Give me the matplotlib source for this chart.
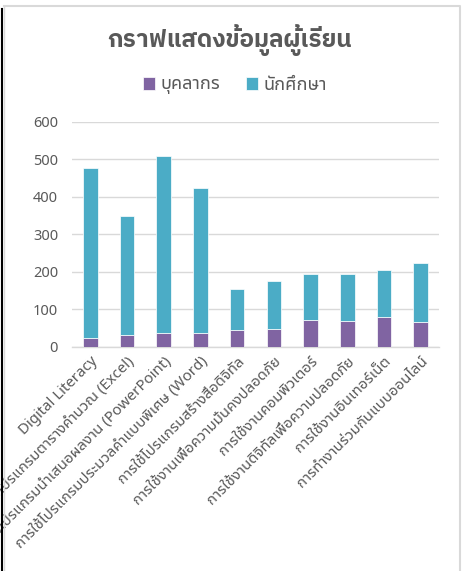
import matplotlib
matplotlib.use("Agg")
import matplotlib.pyplot as plt
from matplotlib.lines import Line2D
import numpy as np

plt.rcParams['font.family'] = ['Noto Sans Thai UI', 'Noto Sans', 'DejaVu Sans']

# data
categories = ['Digital Literacy',
              'การใช้โปรแกรมตารางคำนวณ (Excel)',
              'การใช้โปรแกรมนำเสนอผลงาน (PowerPoint)',
              'การใช้โปรแกรมประมวลคำแบบพิเศษ (Word)',
              'การใช้โปรแกรมสร้างสื่อดิจิทัล',
              'การใช้งานเพื่อความมั่นคงปลอดภัย',
              'การใช้งานคอมพิวเตอร์',
              'การใช้งานดิจิทัลเพื่อความปลอดภัย',
              'การใช้งานอินเทอร์เน็ต',
              'การทำงานร่วมกันแบบออนไลน์']
staff = [25, 31, 36, 38, 44, 47, 71, 70, 81, 66]
students = [453, 317, 472, 386, 111, 130, 124, 125, 124, 158]
series_names = ['บุคลากร', 'นักศึกษา']
colors = ['#8064A2', '#4BACC6']
yticks = [0, 100, 200, 300, 400, 500, 600]

grey = '#595959'
fig = plt.figure(figsize=(4.7, 5.71), dpi=100)
ax = fig.add_axes([72/470, 1 - 347/571, 367/470, 225.3/571])

x = np.arange(len(categories))
ax.bar(x, staff, width=0.4, color=colors[0], edgecolor='white', linewidth=0.5,
       label=series_names[0], zorder=3)
ax.bar(x, students, width=0.4, bottom=staff, color=colors[1], edgecolor='white',
       linewidth=0.5, label=series_names[1], zorder=3)

ax.set_xlim(-0.5, len(categories) - 0.5)
ax.set_ylim(0, 600)
ax.set_yticks(yticks)
ax.yaxis.grid(True, color='#D9D9D9', linewidth=1, zorder=0)
for s in ['top', 'right', 'left']:
    ax.spines[s].set_visible(False)
ax.spines['bottom'].set_color('#D9D9D9')
ax.spines['bottom'].set_linewidth(1)
ax.set_xticks(x)
ax.set_xticklabels(categories, rotation=45, ha='right', va='top',
                   rotation_mode='anchor', fontsize=10.8)
ax.xaxis.set_tick_params(length=0, pad=5, labelcolor=grey)
ax.yaxis.set_tick_params(length=0, pad=10, labelsize=10.5, labelcolor=grey)

fig.text(230/470, 1 - 40/571, 'กราฟแสดงข้อมูลผู้เรียน', ha='center', va='center',
         fontsize=17.5, fontweight='bold', color=grey,
         family=['IBM Plex Sans Thai', 'DejaVu Sans'])
fig.legend(loc='center', bbox_to_anchor=(235/470, 1 - 85/571), ncol=2,
           frameon=False, fontsize=13, labelcolor=grey, handlelength=0.7,
           handleheight=0.7, handletextpad=0.3, columnspacing=1.4)

# chart frame
fig.add_artist(Line2D([4/470, 460/470, 460/470], [1 - 6/571, 1 - 6/571, 0],
                      color='#D9D9D9', linewidth=1.5))
fig.add_artist(Line2D([4/470, 4/470], [1 - 6/571, 0], color='#D9D9D9', linewidth=1))
fig.add_artist(Line2D([1.5/470, 1.5/470], [1 - 9/571, 0], color='black', linewidth=1.5))

fig.savefig('out.png')
